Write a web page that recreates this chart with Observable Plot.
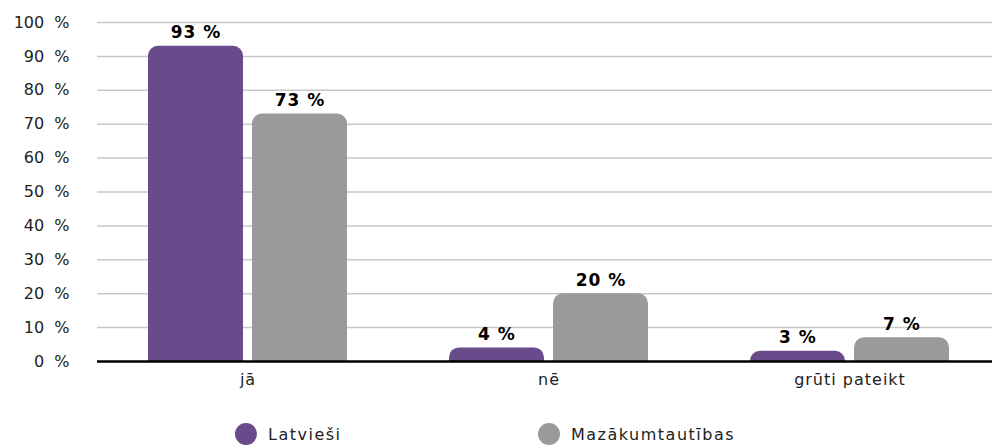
<!DOCTYPE html>
<html>
<head>
<meta charset="utf-8">
<script src="https://cdn.jsdelivr.net/npm/d3@7"></script>
<script src="https://cdn.jsdelivr.net/npm/@observablehq/plot@0.6"></script>
<style>
  body { margin: 0; background: #fff; font-family: "DejaVu Sans", Verdana, sans-serif; }
  #wrap { position: relative; width: 992px; height: 446px; overflow: hidden; }
  .legend { position: absolute; top: 423px; left: 0; width: 992px; height: 30px; }
  .item { position: absolute; display: flex; align-items: center; font-size: 16px; letter-spacing: 1.5px; color: #222; }
  .dot { width: 22px; height: 22px; border-radius: 50%; margin-right: 11px; }
  g[aria-label="y-axis tick label"] text { font-size: 16px; word-spacing: 5px; }
  g[aria-label="fx-axis tick label"] text { font-size: 16px; letter-spacing: 1px; }
  g[aria-label="text"] text { letter-spacing: 1px; }
</style>
</head>
<body>
<div id="wrap"></div>
<script>
const categories = ["jā", "nē", "grūti pateikt"];
const series = ["Latvieši", "Mazākumtautības"];
const latviesi = [93, 4, 3];
const mazakumtautibas = [73, 20, 7];
const yTicks = [0, 10, 20, 30, 40, 50, 60, 70, 80, 90, 100];
const colors = ["#694a8b", "#9a9a9a"];

const rows = [];
categories.forEach((c, i) => {
  rows.push({category: c, series: series[0], value: latviesi[i]});
  rows.push({category: c, series: series[1], value: mazakumtautibas[i]});
});

const chart = Plot.plot({
  width: 992,
  height: 410,
  marginLeft: 96,
  marginRight: -8,
  marginTop: 22,
  marginBottom: 49,
  style: {fontFamily: "DejaVu Sans, Verdana, sans-serif", fontSize: "15px", color: "#222", background: "#fff"},
  fx: {domain: categories, label: null, axis: "bottom", tickSize: 0, tickPadding: 12, paddingInner: 0, paddingOuter: 0},
  x: {domain: series, axis: null, paddingInner: 0.087, paddingOuter: 0.49},
  y: {domain: [0, 100], ticks: yTicks, tickFormat: d => d + " %", tickSize: 0, tickPadding: 28, label: null},
  color: {domain: series, range: colors},
  marks: [
    Plot.ruleY(yTicks.filter(d => d > 0), {stroke: "#c8c8c8", strokeWidth: 1.5}),
    Plot.rectY(rows, {fx: "category", x: "series", y1: () => -5, y2: "value", fill: "series", rx: 10, clip: true}),
    Plot.ruleY([0], {stroke: "#000", strokeWidth: 2.5}),
    Plot.text(rows, {fx: "category", x: "series", y: "value", text: d => d.value + " %", dy: -8, lineAnchor: "bottom", fontWeight: "bold", fontSize: 17, fill: "#000"})
  ]
});
const wrap = document.getElementById("wrap");
wrap.appendChild(chart);

const legend = document.createElement("div");
legend.className = "legend";
const lefts = [235, 538];
series.forEach((s, i) => {
  const item = document.createElement("div");
  item.className = "item";
  item.style.left = lefts[i] + "px";
  const dot = document.createElement("span");
  dot.className = "dot";
  dot.style.background = colors[i];
  const label = document.createElement("span");
  label.textContent = s;
  item.appendChild(dot);
  item.appendChild(label);
  legend.appendChild(item);
});
wrap.appendChild(legend);
</script>
</body>
</html>
